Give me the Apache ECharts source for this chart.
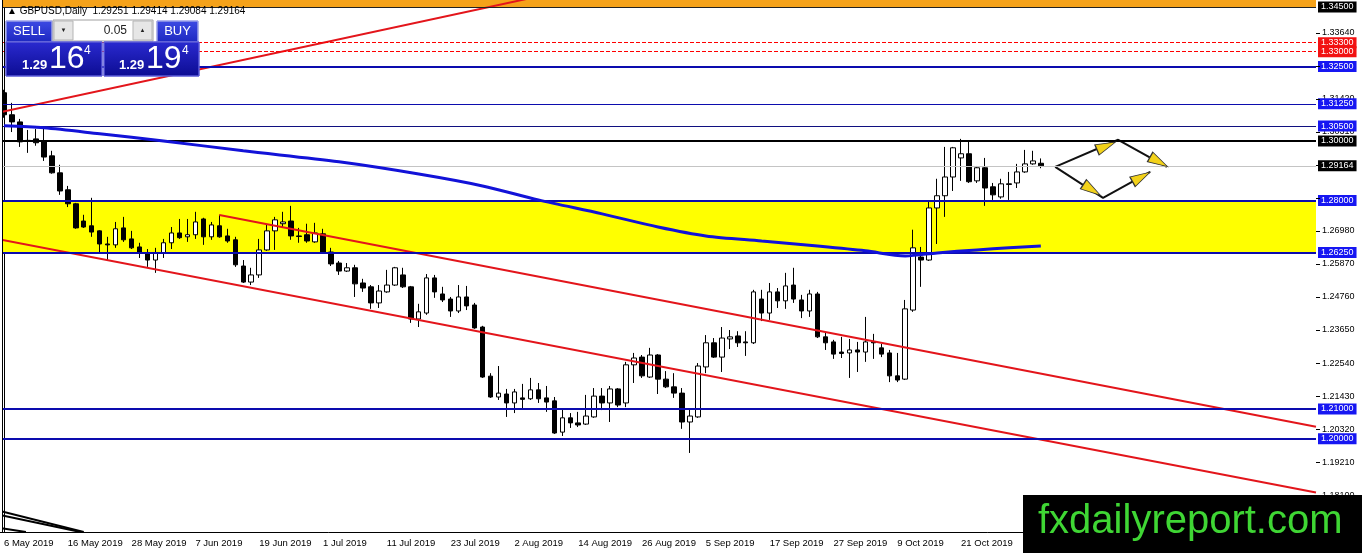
<!DOCTYPE html>
<html><head><meta charset="utf-8">
<script src="https://cdn.jsdelivr.net/npm/echarts@6/dist/echarts.min.js"></script>
<style>html,body{margin:0;padding:0;background:#fff}#c{width:1362px;height:553px}</style>
</head><body><div id="c"></div>
<script>
// ---------- DATA ----------
const opens = [1.3162,1.3088,1.3064,1.3002,1.3007,1.2997,1.2950,1.2893,1.2836,1.2789,
1.2731,1.2715,1.2698,1.2654,1.2651,1.2708,1.2671,1.2644,1.2624,1.2600,
1.2624,1.2658,1.2691,1.2678,1.2685,1.2738,1.2678,1.2715,1.2681,1.2668,
1.2580,1.2526,1.2550,1.2634,1.2698,1.2722,1.2731,1.2681,1.2685,1.2661,
1.2688,1.2627,1.2590,1.2563,1.2574,1.2523,1.2510,1.2456,1.2493,1.2516,
1.2550,1.2510,1.2402,1.2422,1.2540,1.2486,1.2469,1.2429,1.2476,1.2449,
1.2375,1.2210,1.2140,1.2150,1.2120,1.2137,1.2134,1.2164,1.2137,1.2127,
1.2022,1.2070,1.2053,1.2049,1.2073,1.2143,1.2120,1.2167,1.2120,1.2248,
1.2274,1.2207,1.2281,1.2200,1.2174,1.2153,1.2056,1.2073,1.2241,1.2322,
1.2274,1.2335,1.2345,1.2325,1.2322,1.2469,1.2422,1.2493,1.2463,1.2516,
1.2466,1.2429,1.2486,1.2342,1.2325,1.2291,1.2288,1.2298,1.2291,1.2325,
1.2305,1.2288,1.2211,1.2200,1.2432,1.2610,1.2600,1.2775,1.2816,1.2879,
1.2943,1.2957,1.2866,1.2910,1.2846,1.2812,1.2856,1.2859,1.2896,1.2923,
1.29251];
const closes = [1.3088,1.3064,1.2997,1.3000,1.2994,1.2946,1.2893,1.2832,1.2789,1.2708,
1.2711,1.2694,1.2654,1.2651,1.2705,1.2668,1.2641,1.2624,1.2600,1.2624,
1.2658,1.2691,1.2675,1.2685,1.2728,1.2678,1.2718,1.2678,1.2664,1.2584,
1.2526,1.2550,1.2634,1.2698,1.2735,1.2728,1.2681,1.2679,1.2664,1.2691,
1.2627,1.2587,1.2563,1.2574,1.2520,1.2506,1.2456,1.2496,1.2516,1.2574,
1.2510,1.2402,1.2426,1.2540,1.2493,1.2466,1.2429,1.2476,1.2446,1.2372,
1.2207,1.2140,1.2153,1.2120,1.2157,1.2132,1.2164,1.2134,1.2123,1.2019,
1.2070,1.2053,1.2046,1.2076,1.2143,1.2120,1.2167,1.2113,1.2248,1.2271,
1.2211,1.2281,1.2200,1.2174,1.2153,1.2056,1.2076,1.2244,1.2322,1.2274,
1.2338,1.2342,1.2322,1.2322,1.2493,1.2422,1.2493,1.2463,1.2513,1.2469,
1.2429,1.2486,1.2342,1.2322,1.2284,1.2286,1.2298,1.2291,1.2325,1.2322,
1.2284,1.2211,1.2197,1.2436,1.2641,1.2600,1.2775,1.2816,1.2879,1.2977,
1.2957,1.2863,1.2910,1.2842,1.2819,1.2856,1.2854,1.2896,1.2923,1.2933,
1.29164];
const lows = [1.3078,1.3030,1.2980,1.2960,1.2984,1.2933,1.2890,1.2819,1.2778,1.2705,
1.2708,1.2678,1.2624,1.2600,1.2641,1.2661,1.2637,1.2607,1.2577,1.2557,
1.2607,1.2637,1.2671,1.2661,1.2671,1.2651,1.2668,1.2675,1.2658,1.2577,
1.2523,1.2516,1.2540,1.2631,1.2634,1.2708,1.2668,1.2658,1.2658,1.2658,
1.2624,1.2580,1.2550,1.2560,1.2476,1.2493,1.2436,1.2439,1.2490,1.2513,
1.2506,1.2389,1.2375,1.2416,1.2473,1.2459,1.2409,1.2422,1.2432,1.2369,
1.2204,1.2137,1.2130,1.2073,1.2086,1.2100,1.2130,1.2120,1.2090,1.2016,
1.2009,1.2036,1.2039,1.2046,1.2070,1.2096,1.2056,1.2106,1.2106,1.2187,
1.2204,1.2204,1.2150,1.2170,1.2137,1.2033,1.1952,1.2070,1.2220,1.2271,
1.2224,1.2301,1.2308,1.2278,1.2318,1.2395,1.2399,1.2439,1.2436,1.2456,
1.2405,1.2409,1.2338,1.2298,1.2268,1.2271,1.2204,1.2224,1.2258,1.2268,
1.2274,1.2190,1.2190,1.2197,1.2426,1.2510,1.2597,1.2654,1.2745,1.2832,
1.2866,1.2859,1.2859,1.2782,1.2802,1.2806,1.2802,1.2842,1.2893,1.2920,
1.29084];
const highs = [1.3172,1.3128,1.3074,1.3037,1.3040,1.3047,1.2967,1.2920,1.2849,1.2792,
1.2752,1.2809,1.2700,1.2678,1.2728,1.2745,1.2698,1.2658,1.2637,1.2641,
1.2671,1.2711,1.2738,1.2738,1.2762,1.2742,1.2728,1.2752,1.2705,1.2678,
1.2600,1.2574,1.2671,1.2718,1.2745,1.2762,1.2782,1.2708,1.2722,1.2725,
1.2705,1.2641,1.2597,1.2590,1.2584,1.2537,1.2516,1.2516,1.2567,1.2577,
1.2574,1.2513,1.2453,1.2553,1.2550,1.2510,1.2476,1.2516,1.2513,1.2456,
1.2379,1.2220,1.2244,1.2167,1.2167,1.2184,1.2204,1.2187,1.2177,1.2140,
1.2103,1.2086,1.2090,1.2147,1.2170,1.2170,1.2177,1.2170,1.2258,1.2288,
1.2281,1.2305,1.2284,1.2227,1.2220,1.2170,1.2103,1.2254,1.2348,1.2338,
1.2375,1.2365,1.2361,1.2361,1.2500,1.2500,1.2523,1.2506,1.2557,1.2574,
1.2483,1.2500,1.2493,1.2358,1.2332,1.2342,1.2335,1.2325,1.2409,1.2352,
1.2318,1.2298,1.2288,1.2466,1.2702,1.2644,1.2795,1.2873,1.2980,1.2980,
1.3007,1.2997,1.2916,1.2943,1.2859,1.2873,1.2896,1.2923,1.2970,1.2967,
1.29414];
// moving average (bar index, price)
const maIndex  = [0,5,12,20,30,42,52,60,67,75,82,88,95,102,108,113,117,122,126,130];
const maValues = [1.3051,1.3044,1.3024,1.3000,1.2967,1.2930,1.2889,1.2849,1.2802,1.2755,1.2711,1.2681,1.2664,1.2647,1.2631,1.2614,1.2624,1.2634,1.2641,1.2647];
// horizontal price levels
const levelValues = [1.345,1.333,1.330,1.325,1.3125,1.305,1.300,1.29164,1.280,1.2625,1.210,1.200];
const zoneLow = 1.2625, zoneHigh = 1.280;
// trend lines (bar position, price) pairs
const trendUp      = [[-0.5,1.3096],[70.2,1.3504]];
const channelLower = [[-0.5,1.2669],[164.5,1.1819]];
const channelUpper = [[27,1.2751],[164.5,1.2040]];
// drawn arrows (bar position, price)
const arrowPath1 = [[131.8,1.2913],[139.7,1.3004],[145.8,1.2913]];
const arrowPath2 = [[131.8,1.2913],[137.8,1.2809],[143.7,1.2896]];
const arrowHeadPos = [[138.2,1.2983],[144.8,1.2930],[136.4,1.2836],[142.6,1.2879]];
const arrowHeadAngle = [-67,-119,-123,-61];
const cornerLines = [[[-0.5,1.1757],[10,1.16865]],[[-0.5,1.1744],[9.6,1.16865]],[[-0.5,1.1700],[2.75,1.16865]]];
// axes
const yTickValues  = [1.1810,1.1921,1.2032,1.2143,1.2254,1.2365,1.2476,1.2587,1.2698,1.2809,1.2920,1.3031,1.3142,1.3253,1.3364];
const yLabelValues = [1.1810,1.1921,1.2032,1.2143,1.2254,1.2365,1.2476,1.2587,1.2698,1.3031,1.3142,1.3364];
const monthNames = ['Jan','Feb','Mar','Apr','May','Jun','Jul','Aug','Sep','Oct','Nov','Dec'];
const categories = [];
(function(){let d=Date.UTC(2019,4,6);while(categories.length<165){const t=new Date(d);const w=t.getUTCDay();if(w!==0&&w!==6)categories.push(t.getUTCDate()+' '+monthNames[t.getUTCMonth()]+' '+t.getUTCFullYear());d+=86400000;}})();

// ---------- CHART ----------
const FONT = '"Liberation Sans", Arial, sans-serif';
const chart = echarts.init(document.getElementById('c'));
const candleData = opens.map((o,i)=>[o, closes[i], lows[i], highs[i]]);

const BLUE_LINE = '#0c0cae', BLUE_BOX = '#1616f2';
const levelStyle = {
  1.345:  {c:'#222', w:1, t:'solid', bg:'#000'},
  1.333:  {c:'#ff0000', w:1, t:'dashed', bg:'#f21212'},
  1.330:  {c:'#ff0000', w:1, t:'dashed', bg:'#f21212'},
  1.325:  {c:BLUE_LINE, w:2, t:'solid', bg:BLUE_BOX},
  1.3125: {c:BLUE_LINE, w:1, t:'solid', bg:BLUE_BOX},
  1.305:  {c:'#101080', w:1, t:'solid', bg:BLUE_BOX},
  1.300:  {c:'#000', w:2, t:'solid', bg:'#000'},
  1.29164:{c:'#c4c4c4', w:1, t:'solid', bg:'#000'},
  1.280:  {c:BLUE_LINE, w:2, t:'solid', bg:BLUE_BOX},
  1.2625: {c:BLUE_LINE, w:2, t:'solid', bg:BLUE_BOX},
  1.210:  {c:BLUE_LINE, w:2, t:'solid', bg:BLUE_BOX},
  1.200:  {c:BLUE_LINE, w:2, t:'solid', bg:BLUE_BOX}
};
const markLineData = levelValues.map(v=>{const s=levelStyle[v];return {yAxis:v,
  lineStyle:{color:s.c,width:s.w,type:s.t},
  label:{show:true,position:'end',distance:2,formatter:()=>v.toFixed(5),color:'#fff',backgroundColor:s.bg,
    padding:[1,3,0,3],fontSize:9,fontFamily:FONT,lineHeight:10}};});

function seg(data, color, width){return {type:'line',xAxisIndex:1,data:data,symbol:'none',silent:true,z:4,
  lineStyle:{color:color,width:width},animation:false};}

const grad = (a,b)=>new echarts.graphic.LinearGradient(0,0,0,1,[{offset:0,color:a},{offset:1,color:b}]);
const T = (text,x,y,size,fill,align,weight)=>({type:'text',z:101,style:{text:text,x:x,y:y,font:(weight?weight+' ':'')+size+'px '+FONT,fill:fill,align:align||'left',verticalAlign:'middle'}});

const graphics = [
    {type:'rect',z:99,shape:{x:0,y:0,width:2,height:532},style:{fill:'#fff'}},
    {type:'line',z:100,shape:{x1:2.5,y1:0,x2:2.5,y2:532},style:{stroke:'#000',lineWidth:1}},
    T('\u25B2 GBPUSD,Daily  1.29251 1.29414 1.29084 1.29164',7,11,10,'#000'),
    // SELL / BUY panel
    {type:'rect',z:100,shape:{x:6,y:21,width:46,height:21},style:{fill:grad('#3d4be4','#1d27c0'),stroke:'#9aa0e8',lineWidth:1}},
    T('SELL',29,31.5,13,'#fff','center'),
    {type:'rect',z:100,shape:{x:53,y:20,width:100,height:21},style:{fill:'#ffffff',stroke:'#a0a0a0',lineWidth:1}},
    {type:'rect',z:100,shape:{x:54,y:21,width:19,height:19},style:{fill:'#e6e6e6',stroke:'#b5b5b5',lineWidth:1}},
    {type:'rect',z:100,shape:{x:133,y:21,width:19,height:19},style:{fill:'#e6e6e6',stroke:'#b5b5b5',lineWidth:1}},
    T('\u25BC',63.5,30.5,6,'#222','center'),
    T('\u25B2',142.5,30.5,6,'#222','center'),
    T('0.05',127,31,12,'#222','right'),
    {type:'rect',z:100,shape:{x:157,y:21,width:41,height:21},style:{fill:grad('#3d4be4','#1d27c0'),stroke:'#9aa0e8',lineWidth:1}},
    T('BUY',177.5,31.5,13,'#fff','center'),
    {type:'rect',z:100,shape:{x:6,y:42,width:96,height:34},style:{fill:grad('#2a2ad0','#0c0c92'),stroke:'#5a5ad8',lineWidth:1}},
    {type:'rect',z:100,shape:{x:104,y:42,width:95,height:34},style:{fill:grad('#2a2ad0','#0c0c92'),stroke:'#5a5ad8',lineWidth:1}},
    T('1.29',22,65,13,'#fff','left','bold'),
    T('16',49,59.5,32,'#fff'),
    T('4',84,51,12,'#fff'),
    T('1.29',119,65,13,'#fff','left','bold'),
    T('19',146,59.5,32,'#fff'),
    T('4',182,51,12,'#fff'),
    // watermark
    {type:'rect',z:110,shape:{x:1023,y:495,width:339,height:58},style:{fill:'#000'}},
    {type:'text',z:111,style:{text:'fxdailyreport.com',x:1038,y:522,font:'40px '+FONT,fill:'#3fd634',align:'left',verticalAlign:'middle'}}
];

const option = {
  animation:false,
  backgroundColor:'#fff',
  grid:{left:-1,right:46,top:0,bottom:21},
  xAxis:[
    {type:'category',data:categories,boundaryGap:true,
     axisLine:{lineStyle:{color:'#000',width:1}},
     axisTick:{interval:7,alignWithLabel:true,length:3,lineStyle:{color:'#000'}},
     axisLabel:{interval:7,align:'left',color:'#000',fontSize:9.5,fontFamily:FONT,margin:6},
     splitLine:{show:false}},
    {type:'value',min:-0.5,max:164.5,show:false,splitLine:{show:false},axisTick:{show:false},axisLine:{show:false}}
  ],
  yAxis:[
    {type:'value',position:'right',min:1.16865,max:1.34735,
    axisLine:{show:true,lineStyle:{color:'#000'}},
    axisTick:{show:false},
    axisLabel:{customValues:yLabelValues,formatter:v=>v.toFixed(5),fontSize:9,color:'#000',fontFamily:FONT,margin:6},
    splitLine:{show:false}}
  ],
  series:[
    {name:'zones',type:'line',xAxisIndex:1,data:[],z:1,silent:true,
     markArea:{silent:true,precision:6,data:[
       [{yAxis:zoneHigh,itemStyle:{color:'#ffff00'}},{yAxis:zoneLow}],
       [{yAxis:1.345,itemStyle:{color:'#f5a21a'}},{yAxis:1.34735}]
     ]}},
    {name:'GBPUSD',type:'candlestick',xAxisIndex:0,data:candleData,barWidth:5,z:2,silent:true,
     itemStyle:{color:'#ffffff',color0:'#000000',borderColor:'#000000',borderColor0:'#000000',borderWidth:1}},
    {name:'levels',type:'line',xAxisIndex:1,data:[],z:3,silent:true,
     markLine:{symbol:'none',silent:true,precision:6,animation:false,data:markLineData}},
    seg(trendUp,'#e3151b',2),
    seg(channelLower,'#e3151b',2),
    seg(channelUpper,'#e3151b',2),
    Object.assign(seg(maIndex.map((i,k)=>[i,maValues[k]]),'#1212d8',3),{smooth:0.3,z:5}),
    seg(arrowPath1,'#111',2),
    seg(arrowPath2,'#111',2),
    ...cornerLines.map(l=>seg(l,'#000',2)),
    {type:'scatter',xAxisIndex:1,silent:true,z:6,symbol:'triangle',symbolSize:[11,20],
     itemStyle:{color:'#f3d21a',borderColor:'#333',borderWidth:1,opacity:1},
     data:arrowHeadPos.map((p,k)=>({value:p,symbolRotate:arrowHeadAngle[k]}))}
  ],
  graphic:graphics
};
chart.setOption(option);
// price-axis tick marks, placed through the y scale
const axisX = chart.convertToPixel({xAxisIndex:1}, 164.5);
const ticks = yTickValues.map(v=>{const y=Math.round(chart.convertToPixel({yAxisIndex:0}, v))+0.5;
  return {type:'line',z:90,shape:{x1:axisX,y1:y,x2:axisX+4,y2:y},style:{stroke:'#000',lineWidth:1}};});
chart.setOption({graphic:graphics.concat(ticks)});
</script>
</body></html>
